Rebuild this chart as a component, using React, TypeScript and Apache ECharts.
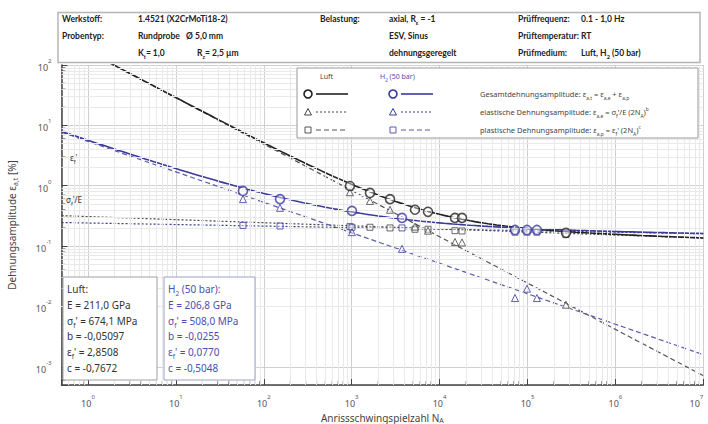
import React, { useEffect, useRef } from 'react';
import * as echarts from 'echarts';

// ---- test data (N_A, strain amplitude in %) ----
const luftN = [955, 1615, 2729, 5250, 7380, 14970, 18000, 274000];
const luftTotal = [0.99, 0.76, 0.6, 0.4, 0.37, 0.293, 0.293, 0.166];
const luftElastic = [0.21, 0.205, 0.2, 0.19, 0.19, 0.18, 0.178, 0.155];
const luftPlastic = [0.78, 0.56, 0.4, 0.21, 0.18, 0.117, 0.115, 0.0107];

const h2N = [58, 153, 1007, 3735, 72100, 98700, 128000];
const h2Total = [0.82, 0.6, 0.383, 0.293, 0.185, 0.185, 0.185];
const h2Elastic = [0.22, 0.215, 0.205, 0.2, 0.17, 0.17, 0.17];
const h2Plastic = [0.6, 0.43, 0.17, 0.09, 0.0138, 0.0197, 0.0138];

// ---- fit parameters printed in the chart: E [GPa], sigma_f' [MPa], b, eps_f', c ----
const luftFit = [211.0, 674.1, -0.05097, 2.8508, -0.7672];
const h2Fit = [206.8, 508.0, -0.0255, 0.077, -0.5048];

const xMin = 0.5;
const xMax = 1e7;
const yMin = 5e-4;
const yMax = 100;

const FONT = '"Noto Sans", "DejaVu Sans", sans-serif';
const HFONT = 'Lato, "Noto Sans", sans-serif';
const BLACK = '#222222';
const BLUE = '#3a3a9e';
const BLUE_TXT = '#4d4db0';

function fitCurves(p: number[]) {
  const [E, sf, b, ef, c] = p;
  const el: number[][] = [];
  const pl: number[][] = [];
  const tot: number[][] = [];
  for (let k = -6; k <= 140; k++) {
    const N = Math.pow(10, k / 20);
    const e = 100 * (sf / (E * 1000)) * Math.pow(2 * N, b);
    const q = 100 * ef * Math.pow(2 * N, c);
    el.push([N, e]);
    pl.push([N, q]);
    tot.push([N, e + q]);
  }
  return { el, pl, tot };
}

function minorValues(lo: number, hi: number) {
  const out: number[] = [];
  for (let k = -5; k <= 8; k++) {
    for (let m = 2; m <= 9; m++) {
      const v = m * Math.pow(10, k);
      if (v > lo * 1.0001 && v < hi * 0.9999) out.push(v);
    }
  }
  return out;
}

const supLabel = (v: number) => {
  const l = Math.log10(v);
  const r = Math.round(l);
  if (Math.abs(l - r) > 1e-6) return '';
  return `{a|10}{b|${r}}`;
};

const richAxis = {
  a: { fontSize: 9, fontFamily: FONT, color: '#555', lineHeight: 14, verticalAlign: 'bottom' },
  b: { fontSize: 6, fontFamily: FONT, color: '#555', lineHeight: 14, verticalAlign: 'top' },
};

function richText(size: number, fill: string, bold = false, family = FONT) {
  const fw = bold ? 'bold' : 'normal';
  return {
    n: { fontSize: size, fill, fontFamily: family, fontWeight: fw, lineHeight: size + 4, verticalAlign: 'middle' },
    s: { fontSize: size * 0.65, fill, fontFamily: family, fontWeight: fw, lineHeight: size + 4, verticalAlign: 'bottom', padding: [0, 0, -1, 0] },
    p: { fontSize: size * 0.65, fill, fontFamily: family, fontWeight: fw, lineHeight: size + 4, verticalAlign: 'top' },
    u: { fontSize: size, fill, fontFamily: family, fontWeight: fw, lineHeight: size + 4, verticalAlign: 'middle', textDecoration: 'underline' },
  };
}

function txt(x: number, y: number, text: string, size: number, fill: string, bold = false, family = FONT) {
  return {
    type: 'text',
    x,
    y,
    z: 110,
    silent: true,
    style: {
      text,
      fontSize: size,
      fontFamily: family,
      fontWeight: bold ? 'bold' : 'normal',
      fill,
      verticalAlign: 'middle',
      align: 'left',
      rich: richText(size, fill, bold, family),
    },
  };
}

function legendRow(y: number, x0: number, color: string, marker: string, dash: number[] | null) {
  const els: any[] = [];
  const mx = x0;
  if (marker === 'circle') {
    els.push({ type: 'circle', z: 110, shape: { cx: mx, cy: y, r: 4 }, style: { fill: '#fff', stroke: color, lineWidth: 1.6 } });
  } else if (marker === 'triangle') {
    els.push({ type: 'polygon', z: 110, shape: { points: [[mx, y - 3.5], [mx + 3.5, y + 3], [mx - 3.5, y + 3]] }, style: { fill: '#fff', stroke: color, lineWidth: 1 } });
  } else {
    els.push({ type: 'rect', z: 110, shape: { x: mx - 3, y: y - 3, width: 6, height: 6 }, style: { fill: '#fff', stroke: color, lineWidth: 1 } });
  }
  els.push({
    type: 'line',
    z: 110,
    shape: { x1: mx + 8, y1: y, x2: mx + 40, y2: y },
    style: { stroke: color, lineWidth: dash ? 1.2 : 1.6, lineDash: dash || undefined },
  });
  return els;
}

export default function App() {
  const ref = useRef<HTMLDivElement>(null);

  useEffect(() => {
    if (!ref.current) return;
    const chart = echarts.init(ref.current, undefined, { renderer: 'svg' });

    const luft = fitCurves(luftFit);
    const h2 = fitCurves(h2Fit);
    const minorX = minorValues(xMin, xMax);
    const minorY = minorValues(yMin, yMax);

    const zip = (a: number[], b: number[]) => a.map((v, i) => [v, b[i]]);

    const lineSeries = (name: string, data: number[][], color: string, type: any, width: number) => ({
      name,
      type: 'line',
      data,
      showSymbol: false,
      symbol: 'none',
      smooth: false,
      clip: true,
      silent: true,
      z: 3,
      lineStyle: { color, width, type },
    });

    const scatter = (name: string, data: number[][], color: string, symbol: string, size: number, bw: number) => ({
      name,
      type: 'scatter',
      data,
      symbol,
      symbolSize: size,
      z: 5,
      itemStyle: { color: 'rgba(255,255,255,0.5)', borderColor: color, borderWidth: bw },
    });

    const H = 8.5;
    const header = [
      { type: 'rect', z: 100, shape: { x: 58, y: 12.5, width: 642, height: 50 }, style: { fill: '#fff', stroke: '#b5b5b5', lineWidth: 1.5 } },
      txt(62, 19, 'Werkstoff:', H, BLACK, true, HFONT),
      txt(138, 19, '1.4521 (X2CrMoTi18-2)', H, BLACK, true, HFONT),
      txt(62, 36, 'Probentyp:', H, BLACK, true, HFONT),
      txt(138, 36, 'Rundprobe   Ø 5,0 mm', H, BLACK, true, HFONT),
      txt(138, 53, '{n|K}{s|t}{n|= 1,0}', H, BLACK, true, HFONT),
      txt(197, 53, '{n|R}{s|z}{n|= 2,5 µm}', H, BLACK, true, HFONT),
      txt(320, 19, 'Belastung:', H, BLACK, true, HFONT),
      txt(389, 19, '{n|axial, R}{s|ε}{n| = -1}', H, BLACK, true, HFONT),
      txt(389, 36, 'ESV, Sinus', H, BLACK, true, HFONT),
      txt(389, 53, 'dehnungsgeregelt', H, BLACK, true, HFONT),
      txt(518, 19, 'Prüffrequenz:', H, BLACK, true, HFONT),
      txt(581, 19, '0.1 - 1,0 Hz', H, BLACK, true, HFONT),
      txt(518, 36, 'Prüftemperatur:', H, BLACK, true, HFONT),
      txt(581, 36, 'RT', H, BLACK, true, HFONT),
      txt(518, 53, 'Prüfmedium:', H, BLACK, true, HFONT),
      txt(581, 53, '{n|Luft, H}{s|2}{n| (50 bar)}', H, BLACK, true, HFONT),
    ];

    const legend = [
      { type: 'rect', z: 100, shape: { x: 297, y: 68, width: 401, height: 70 }, style: { fill: '#fff', stroke: '#9a9a9a', lineWidth: 1 } },
      txt(320, 76, 'Luft', 7, '#444'),
      txt(380, 76, '{n|H}{s|2}{n| (50 bar)}', 7, BLUE_TXT),
      ...legendRow(94, 308, BLACK, 'circle', null),
      ...legendRow(94, 393, BLUE, 'circle', null),
      ...legendRow(112, 308, '#444', 'triangle', [2, 2]),
      ...legendRow(112, 393, BLUE, 'triangle', [2, 2]),
      ...legendRow(130, 308, '#555', 'rect', [5, 3]),
      ...legendRow(130, 393, '#5a5aa8', 'rect', [5, 3]),
      txt(480, 94, '{n|Gesamtdehnungsamplitude: ε}{s|a,t}{n| = ε}{s|a,e}{n| + ε}{s|a,p}', 7.5, '#444'),
      txt(480, 112, "{n|elastische Dehnungsamplitude: ε}{s|a,e}{n| = σ}{s|f}{n|'/E (2N}{s|A}{n|)}{p|b}", 7.5, '#444'),
      txt(480, 130, "{n|plastische Dehnungsamplitude: ε}{s|a,p}{n| = ε}{s|f}{n|' (2N}{s|A}{n|)}{p|c}", 7.5, '#444'),
    ];

    const lineGap = 15.8;
    const boxY0 = 289;
    const luftBoxLines = [
      '{u|Luft:}',
      '{n|E = 211,0 GPa}',
      "{n|σ}{s|f}{n|' = 674,1 MPa}",
      '{n|b = -0,05097}',
      "{n|ε}{s|f}{n|' = 2,8508}",
      '{n|c = -0,7672}',
    ];
    const h2BoxLines = [
      '{u|H}{s|2}{u| (50 bar):}',
      '{n|E = 206,8 GPa}',
      "{n|σ}{s|f}{n|' = 508,0 MPa}",
      '{n|b = -0,0255}',
      "{n|ε}{s|f}{n|' = 0,0770}",
      '{n|c = -0,5048}',
    ];
    const boxes = [
      { type: 'rect', z: 100, shape: { x: 63, y: 277, width: 94, height: 103 }, style: { fill: '#fff', stroke: '#a0a0a0', lineWidth: 1 } },
      { type: 'rect', z: 100, shape: { x: 164, y: 277, width: 91, height: 103 }, style: { fill: '#fff', stroke: '#a0a0c8', lineWidth: 1 } },
      ...luftBoxLines.map((t, i) => txt(67, boxY0 + i * lineGap, t, 10, '#333')),
      ...h2BoxLines.map((t, i) => txt(168, boxY0 + i * lineGap, t, 10, BLUE_TXT)),
    ];

    const annotations = [
      txt(70, 157, "{n|ε}{s|f}{n|'}", 8, '#333'),
      txt(66, 199, "{n|σ}{s|f}{n|'/E}", 8, '#333'),
    ];

    const option: any = {
      animation: false,
      backgroundColor: '#fff',
      grid: { left: 61.5, right: 4.7, top: 65, bottom: 39, containLabel: false, outerBoundsMode: 'none' },
      xAxis: {
        type: 'log',
        logBase: 10,
        min: xMin,
        max: xMax,
        name: 'Anrissschwingspielzahl {i|N}{s|A}',
        nameLocation: 'middle',
        nameGap: 17,
        nameTextStyle: {
          fontSize: 10,
          fontFamily: FONT,
          color: '#444',
          rich: {
            i: { fontSize: 10, fontFamily: FONT, color: '#444', lineHeight: 12 },
            s: { fontSize: 7, fontFamily: FONT, color: '#444', verticalAlign: 'bottom', lineHeight: 12 },
          },
        },
        axisLine: { show: true, lineStyle: { color: '#444', width: 1.5 } },
        axisTick: { show: true, inside: true, length: 6, lineStyle: { color: '#444', width: 1 } },
        axisLabel: { formatter: supLabel, rich: richAxis, margin: 9, color: '#555', alignMaxLabel: 'right' },
        splitLine: { show: true, lineStyle: { color: '#cfcfcf', width: 1 } },
      },
      yAxis: {
        type: 'log',
        logBase: 10,
        min: yMin,
        max: yMax,
        name: 'Dehnungsamplitude ε{s|a,t} [%]',
        nameLocation: 'middle',
        nameGap: 43,
        nameRotate: 90,
        nameTextStyle: {
          fontSize: 10,
          fontFamily: FONT,
          color: '#444',
          rich: {
            s: { fontSize: 7, fontFamily: FONT, color: '#444', verticalAlign: 'bottom', lineHeight: 14 },
          },
        },
        axisLine: { show: true, lineStyle: { color: '#444', width: 1.5 } },
        axisTick: { show: true, inside: true, length: 6, lineStyle: { color: '#444', width: 1 } },
        axisLabel: { formatter: supLabel, rich: richAxis, margin: 10, color: '#555' },
        splitLine: { show: true, lineStyle: { color: '#cfcfcf', width: 1 } },
      },
      series: [
        {
          name: 'minor grid',
          type: 'line',
          data: [],
          silent: true,
          z: 1,
          markLine: {
            silent: true,
            symbol: 'none',
            label: { show: false },
            animation: false,
            lineStyle: { color: '#e9e9e9', width: 1, type: 'solid' },
            data: [
              ...minorX.map((v) => ({ xAxis: v })),
              ...minorY.map((v) => ({ yAxis: v })),
            ],
          },
        },
        {
          name: 'minor ticks x',
          type: 'scatter',
          silent: true,
          z: 2,
          clip: false,
          symbol: 'rect',
          symbolSize: [0.9, 4],
          symbolOffset: [0, -2],
          itemStyle: { color: '#444' },
          data: minorX.map((v) => [v, yMin]),
        },
        {
          name: 'minor ticks y',
          type: 'scatter',
          silent: true,
          z: 2,
          clip: false,
          symbol: 'rect',
          symbolSize: [4, 0.9],
          symbolOffset: [2, 0],
          itemStyle: { color: '#444' },
          data: minorY.map((v) => [xMin, v]),
        },
        lineSeries('Luft plastisch (Fit)', luft.pl, '#555', [5, 3], 1.2),
        lineSeries('Luft elastisch (Fit)', luft.el, '#444', [2, 2], 1.2),
        lineSeries('H2 plastisch (Fit)', h2.pl, '#5a5aa8', [5, 3], 1.2),
        lineSeries('H2 elastisch (Fit)', h2.el, BLUE, [2, 2], 1.2),
        lineSeries('Luft gesamt (Fit)', luft.tot, BLACK, 'solid', 1.6),
        lineSeries('H2 gesamt (Fit)', h2.tot, BLUE, 'solid', 1.6),
        scatter('Luft elastisch', zip(luftN, luftElastic), '#444', 'rect', 6, 1),
        scatter('H2 elastisch', zip(h2N, h2Elastic), BLUE, 'rect', 6, 1),
        scatter('Luft plastisch', zip(luftN, luftPlastic), '#444', 'triangle', 7, 1),
        scatter('H2 plastisch', zip(h2N, h2Plastic), BLUE, 'triangle', 7, 1),
        scatter('Luft gesamt', zip(luftN, luftTotal), BLACK, 'circle', 9, 1.6),
        scatter('H2 gesamt', zip(h2N, h2Total), BLUE, 'circle', 9, 1.6),
      ],
      graphic: [...header, ...legend, ...boxes, ...annotations],
    };

    chart.setOption(option);
    return () => chart.dispose();
  }, []);

  return <div ref={ref} style={{ width: 708, height: 424, position: 'absolute', left: 0, top: 0 }} />;
}
